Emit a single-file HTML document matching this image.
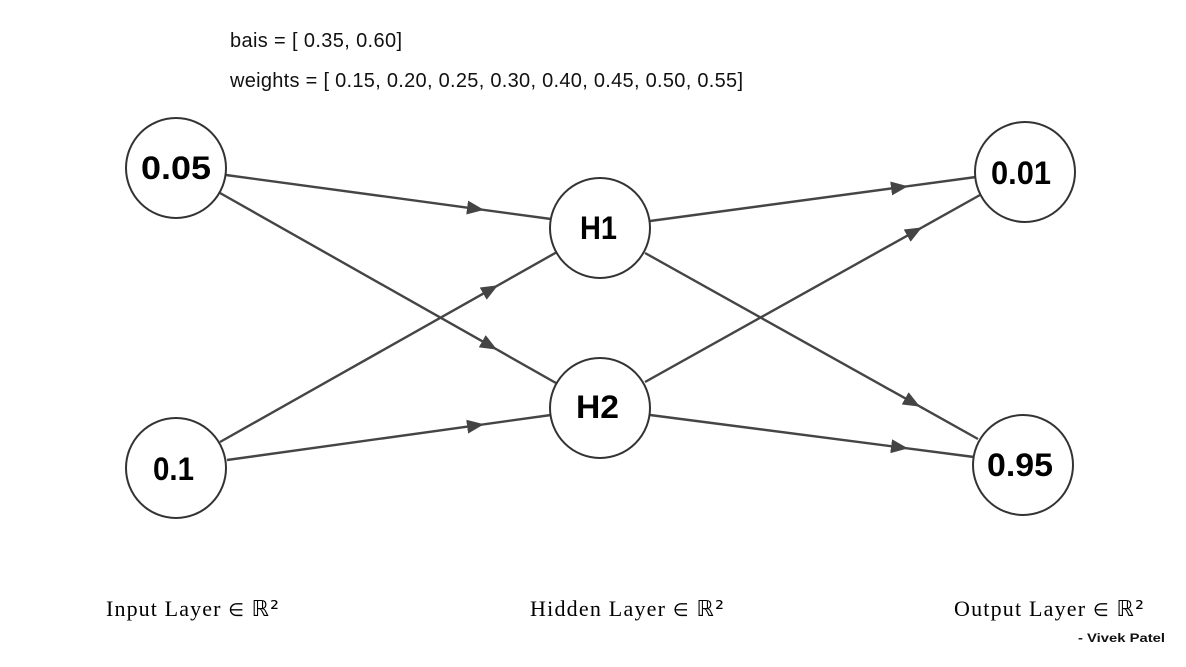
<!DOCTYPE html>
<html><head><meta charset="utf-8"><style>
html,body{margin:0;padding:0;background:#fff;width:1186px;height:667px;overflow:hidden}
svg{display:block}
</style></head><body>
<svg width="1186" height="667" viewBox="0 0 1186 667" xmlns="http://www.w3.org/2000/svg">
<defs>
<marker id="a" markerWidth="18" markerHeight="14" refX="17" refY="7" orient="auto" markerUnits="userSpaceOnUse">
<path d="M0,0 L17,7 L0,14 Z" fill="#444"/>
</marker>
</defs>
<g font-family="Liberation Sans, sans-serif" font-size="20" fill="#111">
<text x="230" y="47" textLength="172" lengthAdjust="spacing">bais = [ 0.35, 0.60]</text>
<text x="230" y="87" textLength="513" lengthAdjust="spacing">weights = [ 0.15, 0.20, 0.25, 0.30, 0.40, 0.45, 0.50, 0.55]</text>
</g>
<g stroke="#454545" stroke-width="2.4" fill="none">
<line x1="226" y1="175" x2="484" y2="209.9" marker-end="url(#a)"/><line x1="484" y1="209.9" x2="551" y2="219"/>
<line x1="220" y1="193" x2="497" y2="349.6" marker-end="url(#a)"/><line x1="497" y1="349.6" x2="556" y2="383"/>
<line x1="220" y1="442" x2="498" y2="285.3" marker-end="url(#a)"/><line x1="498" y1="285.3" x2="557" y2="252"/>
<line x1="227" y1="460" x2="484" y2="424.3" marker-end="url(#a)"/><line x1="484" y1="424.3" x2="551" y2="415"/>
<line x1="650" y1="221" x2="908" y2="186.2" marker-end="url(#a)"/><line x1="908" y1="186.2" x2="976" y2="177"/>
<line x1="645" y1="253" x2="920" y2="406.6" marker-end="url(#a)"/><line x1="920" y1="406.6" x2="978" y2="439"/>
<line x1="645" y1="382" x2="922" y2="227.4" marker-end="url(#a)"/><line x1="922" y1="227.4" x2="980" y2="195"/>
<line x1="650" y1="415" x2="908" y2="448.4" marker-end="url(#a)"/><line x1="908" y1="448.4" x2="974" y2="457"/>
</g>
<g stroke="#333" stroke-width="2" fill="#fff">
<circle cx="176" cy="168" r="50"/>
<circle cx="176" cy="468" r="50"/>
<circle cx="600" cy="228" r="50"/>
<circle cx="600" cy="408" r="50"/>
<circle cx="1025" cy="172" r="50"/>
<circle cx="1023" cy="465" r="50"/>
</g>
<g font-family="Liberation Sans, sans-serif" font-size="32" font-weight="bold" fill="#000">
<text x="141" y="179" textLength="70" lengthAdjust="spacingAndGlyphs">0.05</text>
<text x="153" y="480" textLength="41" lengthAdjust="spacingAndGlyphs">0.1</text>
<text x="580" y="239" textLength="37" lengthAdjust="spacingAndGlyphs">H1</text>
<text x="576" y="418" textLength="43" lengthAdjust="spacingAndGlyphs">H2</text>
<text x="991" y="184" textLength="60" lengthAdjust="spacingAndGlyphs">0.01</text>
<text x="987" y="476" textLength="66" lengthAdjust="spacingAndGlyphs">0.95</text>
</g>
<g font-family="Liberation Serif, DejaVu Serif, serif" font-size="22" fill="#000">
<text x="106" y="616" textLength="173" lengthAdjust="spacing">Input Layer <tspan font-family="DejaVu Sans, sans-serif" font-size="18">∈</tspan> <tspan font-family="DejaVu Sans, sans-serif">ℝ²</tspan></text>
<text x="530" y="616" textLength="194" lengthAdjust="spacing">Hidden Layer <tspan font-family="DejaVu Sans, sans-serif" font-size="18">∈</tspan> <tspan font-family="DejaVu Sans, sans-serif">ℝ²</tspan></text>
<text x="954" y="616" textLength="190" lengthAdjust="spacing">Output Layer <tspan font-family="DejaVu Sans, sans-serif" font-size="18">∈</tspan> <tspan font-family="DejaVu Sans, sans-serif">ℝ²</tspan></text>
</g>
<text x="1078" y="642" textLength="87" lengthAdjust="spacingAndGlyphs" font-family="Liberation Sans, sans-serif" font-size="12" font-weight="bold" fill="#111">- Vivek Patel</text>
</svg>
</body></html>
